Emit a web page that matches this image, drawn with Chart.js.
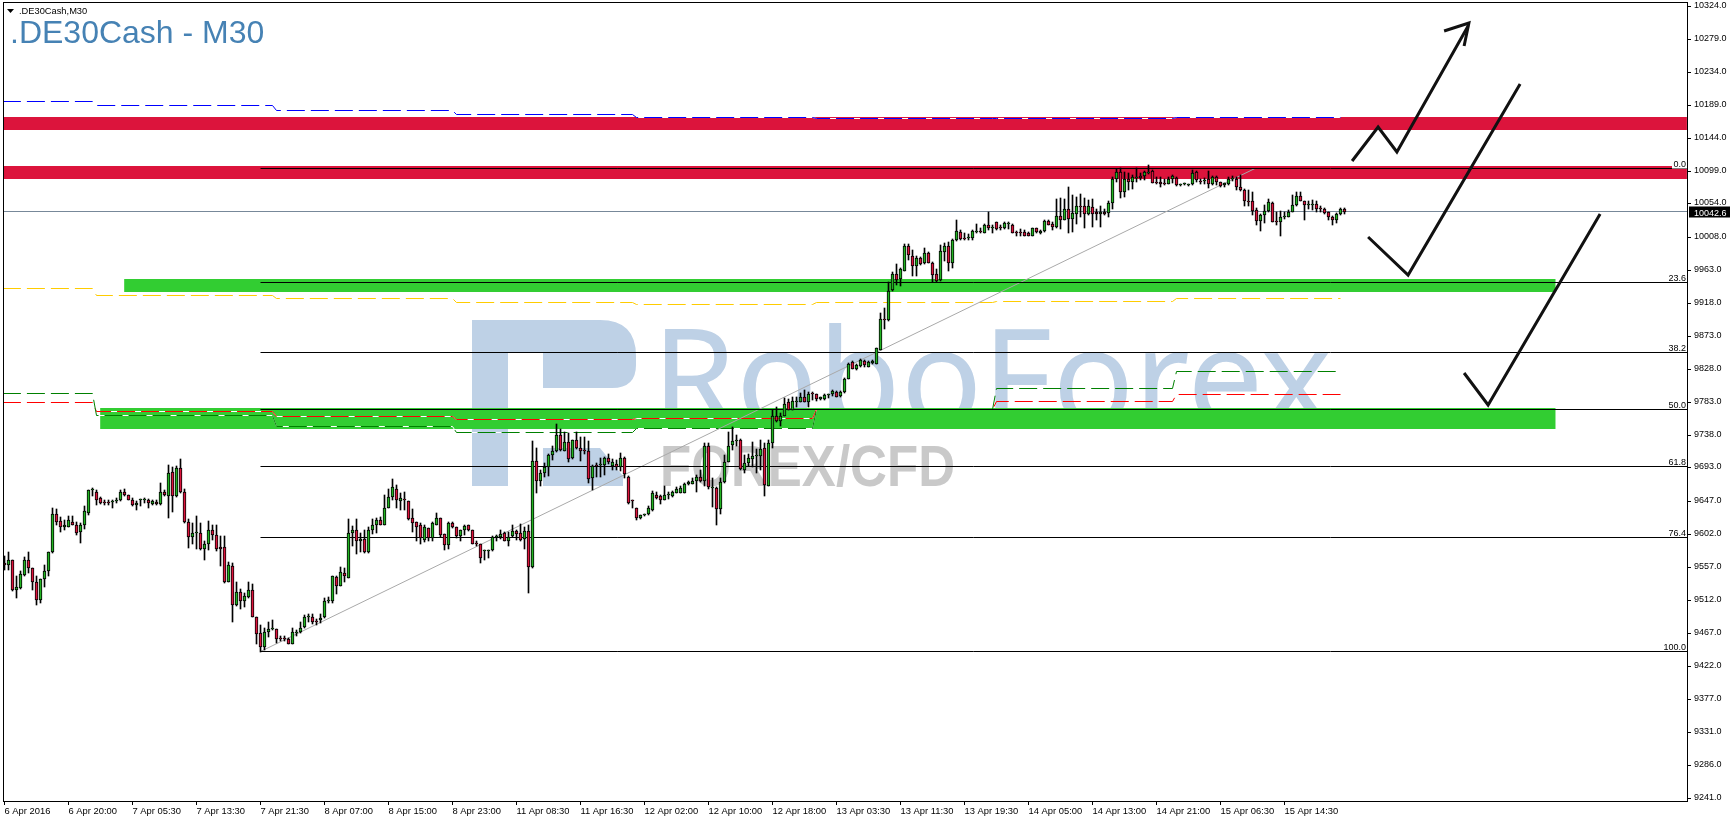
<!DOCTYPE html>
<html lang="en">
<head>
<meta charset="UTF-8">
<title>.DE30Cash - M30</title>
<script src="https://cdn.jsdelivr.net/npm/chart.js"></script>
<style>
    html, body { margin: 0; padding: 0; background: #fff; }
    canvas { display: block; }
</style>
</head>
<body>
<canvas id="chart" width="1730" height="822"></canvas>
<script>
// candles, one entry per M30 bar
const opens = [
    9563,9559,9566,9526,9528,9546,9567,9555,9537,9512, 9540,9552,9577,9629,9620,9612,9612,9619,9615,9605,
    9615,9631,9662,9660,9651,9646,9646,9646,9647,9648, 9660,9655,9649,9641,9648,9648,9649,9643,9646,9643,
    9660,9654,9687,9654,9692,9659,9619,9598,9604,9604, 9582,9589,9608,9600,9584,9584,9536,9558,9505,9523,
    9511,9516,9526,9488,9466,9447,9468,9472,9472,9460, 9460,9459,9451,9466,9468,9475,9488,9488,9483,9484,
    9488,9510,9510,9543,9531,9548,9542,9603,9608,9593, 9595,9577,9608,9615,9621,9615,9638,9653,9664,9647,
    9649,9647,9624,9618,9614,9594,9610,9597,9615,9624, 9602,9587,9617,9611,9599,9607,9614,9607,9590,9589,
    9579,9579,9580,9598,9598,9603,9593,9599,9606,9604, 9595,9606,9557,9702,9674,9686,9694,9710,9715,9737,
    9716,9728,9706,9731,9719,9716,9716,9678,9696,9696, 9697,9706,9695,9698,9693,9706,9680,9648,9637,9624,
    9628,9629,9635,9656,9654,9649,9656,9654,9658,9658, 9658,9670,9671,9674,9680,9674,9722,9665,9665,9636,
    9673,9701,9724,9729,9731,9690,9699,9705,9708,9708, 9719,9668,9727,9764,9756,9764,9782,9772,9783,9783,
    9789,9783,9794,9793,9786,9787,9792,9793,9796,9791, 9796,9814,9837,9828,9832,9839,9831,9836,9835,9854,
    9896,9894,9935,9958,9951,9962,9996,9982,9968,9979, 9972,9986,9973,9957,9949,9988,9996,9973,10004,10015,
    10007,10007,10007,10015,10016,10014,10024,10020,10028,10021, 10020,10026,10025,10014,10014,10015,10013,10010,10020,10013,
    10016,10030,10026,10022,10037,10032,10046,10033,10040,10051, 10051,10039,10049,10042,10039,10042,10041,10055,10088,10097,
    10070,10087,10083,10089,10092,10091,10096,10098,10084,10084, 10082,10081,10087,10089,10079,10080,10079,10080,10097,10085,
    10085,10087,10080,10090,10084,10079,10081,10087,10088,10077, 10073,10057,10057,10045,10030,10038,10044,10054,10029,10028,
    10036,10036,10043,10052,10064,10057,10052,10052,10053,10047, 10047,10042,10036,10031,10039,10047
];
const highs = [
    9572,9577,9566,9544,9551,9571,9578,9555,9544,9540, 9559,9578,9638,9636,9625,9621,9627,9627,9618,9617,
    9640,9662,9665,9662,9653,9648,9648,9649,9651,9662, 9664,9656,9651,9647,9650,9651,9650,9649,9649,9672,
    9662,9697,9693,9695,9704,9664,9622,9617,9627,9617, 9592,9620,9615,9614,9599,9599,9564,9563,9537,9527,
    9521,9536,9534,9488,9477,9473,9481,9484,9472,9462, 9462,9460,9474,9471,9482,9491,9492,9493,9486,9492,
    9514,9516,9545,9545,9557,9556,9622,9613,9622,9603, 9607,9612,9623,9624,9625,9655,9663,9677,9669,9658,
    9659,9647,9636,9619,9617,9615,9610,9618,9631,9624, 9602,9618,9619,9612,9608,9615,9615,9607,9592,9589,
    9580,9580,9599,9601,9607,9605,9605,9615,9607,9616, 9612,9615,9729,9720,9690,9699,9711,9722,9753,9745,
    9741,9740,9731,9741,9735,9735,9729,9696,9699,9706, 9707,9711,9705,9703,9713,9707,9682,9649,9638,9628,
    9629,9640,9661,9659,9655,9668,9659,9661,9666,9667, 9672,9674,9679,9683,9689,9726,9726,9678,9666,9678,
    9710,9741,9748,9738,9732,9710,9711,9728,9718,9730, 9726,9731,9772,9776,9767,9788,9786,9790,9789,9795,
    9799,9796,9796,9794,9790,9793,9794,9799,9797,9797, 9815,9836,9838,9834,9841,9840,9838,9840,9856,9904,
    9911,9947,9960,9971,9966,9999,9999,9990,9982,9981, 9993,9988,9974,9964,9997,10000,10001,10005,10031,10018,
    10013,10012,10018,10026,10020,10026,10042,10024,10029,10024, 10028,10028,10026,10016,10019,10018,10015,10020,10021,10018,
    10031,10031,10028,10060,10061,10060,10076,10065,10063,10067, 10061,10059,10060,10047,10050,10046,10058,10090,10101,10102,
    10097,10096,10093,10102,10095,10099,10106,10100,10090,10090, 10087,10090,10093,10090,10080,10082,10081,10100,10099,10087,
    10089,10099,10092,10092,10084,10082,10090,10091,10090,10093, 10074,10072,10070,10048,10040,10052,10060,10056,10043,10044,
    10043,10045,10065,10069,10070,10058,10058,10059,10058,10050, 10048,10043,10037,10041,10048,10048
];
const lows = [
    9553,9553,9524,9514,9527,9545,9548,9525,9505,9508, 9530,9544,9576,9614,9605,9607,9612,9614,9600,9590,
    9609,9628,9654,9642,9643,9642,9642,9637,9644,9647, 9654,9648,9640,9635,9640,9644,9638,9641,9641,9642,
    9654,9624,9632,9653,9658,9617,9583,9588,9582,9580, 9566,9580,9594,9579,9558,9535,9536,9481,9503,9500,
    9502,9515,9488,9451,9441,9443,9461,9471,9453,9456, 9456,9451,9451,9462,9467,9474,9482,9479,9477,9480,
    9487,9508,9508,9520,9531,9537,9542,9586,9575,9578, 9576,9576,9602,9603,9614,9614,9638,9648,9638,9635,
    9635,9621,9605,9593,9589,9591,9592,9592,9614,9598, 9580,9581,9610,9597,9593,9601,9606,9588,9586,9562,
    9566,9569,9579,9592,9595,9592,9586,9598,9594,9593, 9581,9521,9556,9658,9667,9680,9682,9703,9714,9715,
    9715,9700,9704,9718,9702,9711,9672,9662,9680,9680, 9683,9698,9689,9689,9688,9678,9643,9637,9621,9623,
    9626,9628,9634,9650,9643,9648,9650,9653,9658,9658, 9658,9669,9670,9660,9673,9668,9663,9639,9615,9629,
    9672,9700,9717,9723,9690,9686,9695,9694,9686,9690, 9654,9667,9720,9755,9750,9763,9772,9771,9775,9782,
    9782,9775,9785,9784,9785,9785,9788,9791,9789,9790, 9795,9814,9827,9826,9831,9831,9830,9834,9834,9854,
    9883,9893,9934,9943,9941,9961,9977,9955,9955,9970, 9971,9973,9947,9947,9948,9976,9961,9966,10003,10004,
    10004,10004,10004,10013,10013,10013,10018,10014,10018,10018, 10019,10019,10013,10010,10010,10009,10009,10009,10013,10012,
    10015,10024,10018,10021,10019,10031,10014,10015,10026,10036, 10021,10038,10022,10031,10022,10038,10036,10047,10084,10062,
    10063,10072,10074,10084,10086,10086,10094,10082,10081,10076, 10079,10080,10082,10078,10078,10079,10078,10079,10083,10081,
    10081,10075,10079,10079,10076,10077,10079,10085,10072,10071, 10051,10051,10038,10024,10017,10027,10043,10028,10025,10009,
    10033,10035,10042,10051,10057,10032,10047,10045,10042,10043, 10040,10031,10025,10027,10038,10040
];
const closes = [
    9559,9567,9525,9529,9547,9567,9555,9537,9512,9540, 9551,9578,9629,9618,9612,9614,9621,9615,9604,9614,
    9633,9662,9664,9649,9644,9644,9645,9647,9648,9660, 9656,9649,9642,9645,9648,9649,9644,9647,9643,9659,
    9655,9686,9654,9692,9659,9618,9598,9604,9604,9581, 9588,9608,9601,9582,9582,9536,9559,9505,9523,9511,
    9517,9526,9489,9465,9448,9468,9472,9472,9458,9459, 9459,9451,9468,9468,9474,9488,9488,9481,9482,9487,
    9510,9511,9544,9531,9550,9544,9603,9608,9593,9595, 9577,9607,9615,9621,9615,9638,9653,9666,9648,9651,
    9648,9623,9617,9612,9596,9612,9597,9617,9624,9601, 9587,9617,9612,9599,9607,9613,9607,9589,9589,9569,
    9579,9579,9598,9598,9602,9593,9598,9606,9602,9594, 9606,9557,9702,9674,9685,9694,9710,9716,9737,9717,
    9728,9705,9731,9719,9716,9715,9677,9695,9695,9697, 9706,9700,9700,9693,9706,9684,9644,9647,9624,9628,
    9629,9637,9658,9651,9649,9656,9657,9659,9664,9665, 9671,9673,9675,9680,9674,9722,9666,9666,9636,9673,
    9701,9723,9729,9729,9691,9699,9706,9708,9708,9718, 9669,9727,9763,9757,9764,9780,9772,9784,9783,9789,
    9783,9794,9793,9786,9789,9792,9792,9797,9790,9796, 9814,9835,9828,9833,9840,9833,9837,9838,9856,9896,
    9895,9934,9958,9950,9964,9996,9983,9968,9980,9971, 9986,9973,9956,9948,9989,9996,9973,10004,10016,10006,
    10006,10008,10016,10016,10015,10024,10020,10020,10019,10020, 10027,10027,10014,10013,10013,10010,10010,10020,10015,10016,
    10030,10025,10022,10037,10032,10046,10033,10041,10050,10049, 10039,10051,10039,10039,10042,10040,10054,10088,10097,10070,
    10087,10084,10090,10089,10089,10097,10097,10082,10082,10081, 10081,10087,10091,10079,10079,10080,10080,10095,10086,10084,
    10085,10080,10090,10084,10078,10082,10088,10087,10077,10072, 10057,10056,10044,10030,10038,10044,10056,10028,10028,10035,
    10037,10043,10052,10064,10058,10052,10052,10052,10046,10046, 10041,10035,10031,10040,10047,10042.6
];

// axis labels
const priceTicks = [10324,10279,10234,10189,10144,10099,10054,10008,9963,9918,9873,9828,9783,9738,9693,9647,9602,9557,9512,9467,9422,9377,9331,9286,9241];
const timeLabels = ['6 Apr 2016','6 Apr 20:00','7 Apr 05:30','7 Apr 13:30','7 Apr 21:30','8 Apr 07:00','8 Apr 15:00','8 Apr 23:00','11 Apr 08:30','11 Apr 16:30','12 Apr 02:00','12 Apr 10:00','12 Apr 18:00','13 Apr 03:30','13 Apr 11:30','13 Apr 19:30','14 Apr 05:00','14 Apr 13:00','14 Apr 21:00','15 Apr 06:30','15 Apr 14:30'];
const barsPerLabel = 16;

// daily pivot levels, first and last bar of each day
const dayStart = [-0.4,23,68,113,158,203,248,293];
const dayEnd = [22,67,112,157,202,247,292,334];
const pivotBlue = [10194,10187.3,10181.8,10175.9,10171.5,10170.4,10170.4,10171.5];
const pivotGold = [9938.4,9928.8,9923.4,9917.9,9915.2,9917.9,9920.6,9923.4];
const pivotGreen = [9794.4,9764.3,9749,9740.5,9745.6,9771.6,9801.2,9824.5];
const pivotRed = [9782.1,9769.2,9763,9758.9,9760.2,9771.6,9783.2,9793.4];

// fibonacci retracement
const fibLabels = ['0.0','23.6','38.2','50.0','61.8','76.4','100.0'];
const fibPrices = [10102.1,9946.2,9850.5,9772.9,9694.6,9597.5,9442];
const fibFromBar = 64;
const fibToBar = 312.6;

// drawn zones: [first bar, last bar, top price, bottom price]
const redZones = [[-0.4,420.6,10172.2,10154.4],[-0.4,420.6,10105.2,10087.4]];
const greenZones = [[29.9,387.8,9950.7,9933],[23.9,387.8,9774.3,9745.6]];

// hand drawn arrows
const arrowA = [[336.9,10112],[343.4,10158.5],[348.1,10124.4],[365.9,10296.7]];
const arrowHead = [[359.9,10289.8],[366.1,10300.8],[364.9,10269.3]];
const arrowB = [[340.9,10008.1],[350.9,9956.2],[378.9,10217.3]];
const arrowC = [[364.9,9822.2],[370.9,9778.4],[398.9,10039.6]];

const lastPrice = 10042.6;

const UP = '#22b422';
const DOWN = '#dc143c';
const FONT = '"Liberation Sans", Arial, sans-serif';
const xMin = -0.375, xMax = 420.625;

// MT4 draws on whole pixels, so snap the price scale too
class SnapScale extends Chart.LinearScale {
    getPixelForValue(value) {
        const p = super.getPixelForValue(value);
        return this.options.halfPixel ? Math.floor(p) + 0.5 : Math.round(p);
    }
}
SnapScale.id = 'snap';
SnapScale.defaults = Chart.LinearScale.defaults;
Chart.register(SnapScale);

function pts(list) {
    return list.map(p => ({x: p[0], y: p[1]}));
}

function pivotPoints(levels, from, to) {
    const out = [];
    for (let d = from; d <= to; d++) {
        out.push({x: dayStart[d], y: levels[d]}, {x: dayEnd[d], y: levels[d]});
    }
    return out;
}

function lineSet(data, color, width, order, dash) {
    return {type: 'line', data: data, borderColor: color, borderWidth: width, borderDash: dash || [],
        pointRadius: 0, tension: 0, fill: false, yAxisID: 'yLine', order: order};
}

// the tick labels must not push the plot area in
function noPadding(s) {
    s.paddingTop = 0;
    s.paddingBottom = 0;
    s.paddingLeft = 0;
    s.paddingRight = 0;
}

const datasets = [];

redZones.concat(greenZones).forEach((z, n) => {
    datasets.push({type: 'line', yAxisID: 'y', order: 20, pointRadius: 0, borderWidth: 0,
        data: [{x: z[0], y: z[2]}, {x: z[1], y: z[2]}],
        fill: {target: {value: z[3]}},
        backgroundColor: n < 2 ? DOWN : '#32cd32'});
});

// white under the dashes, it only shows where they cross a zone
datasets.push(lineSet(pivotPoints(pivotBlue, 4, 7), '#fff', 1, 12));
datasets.push(lineSet(pivotPoints(pivotGreen, 1, 5), '#fff', 1, 12));
datasets.push(lineSet(pivotPoints(pivotRed, 1, 5), '#fff', 1, 12));
datasets.push(lineSet(pivotPoints(pivotBlue, 0, 7), '#0000ff', 1, 11, [18, 6]));
datasets.push(lineSet(pivotPoints(pivotGold, 0, 7), '#ffcc00', 1, 11, [18, 6]));
datasets.push(lineSet(pivotPoints(pivotGreen, 0, 7), '#008000', 1, 11, [18, 6]));
datasets.push(lineSet(pivotPoints(pivotRed, 0, 7), '#ff0000', 1, 11, [18, 6]));

fibPrices.forEach(p => {
    datasets.push(lineSet([{x: fibFromBar, y: p}, {x: xMax, y: p}], '#000', 1, 9));
});
datasets.push(lineSet([{x: fibFromBar, y: fibPrices[6]}, {x: fibToBar, y: fibPrices[0]}], '#a9a9a9', 1, 9));
datasets.push(lineSet([{x: xMin, y: lastPrice}, {x: xMax, y: lastPrice}], '#778899', 1, 9));

// wicks then bodies
datasets.push({type: 'bar', grouped: false, order: 6, barThickness: 1, backgroundColor: '#000', yAxisID: 'y',
    data: highs.map((h, i) => ({x: i, y: [lows[i], h]}))});
datasets.push({type: 'bar', grouped: false, order: 5, barThickness: 3, borderWidth: 1, borderColor: '#000',
    borderSkipped: false, minBarLength: 1, yAxisID: 'y',
    backgroundColor: closes.map((c, i) => c >= opens[i] ? UP : DOWN),
    data: closes.map((c, i) => ({x: i, y: [opens[i], c]}))});

[arrowA, arrowHead, arrowB, arrowC].forEach(a => {
    const d = lineSet(pts(a), '#111', 3, 1);
    d.yAxisID = 'y';
    datasets.push(d);
});

const decorations = {
    id: 'decorations',
    beforeDatasetsDraw(chart) {
        const ctx = chart.ctx;
        ctx.save();
        // watermark logo
        ctx.fillStyle = '#bed1e6';
        ctx.beginPath();
        ctx.moveTo(472, 320);
        ctx.lineTo(600, 320);
        ctx.quadraticCurveTo(636, 320, 636, 356);
        ctx.lineTo(636, 365);
        ctx.quadraticCurveTo(636, 388, 612, 388);
        ctx.lineTo(543, 388);
        ctx.lineTo(543, 352);
        ctx.lineTo(508, 352);
        ctx.lineTo(508, 486);
        ctx.lineTo(472, 486);
        ctx.closePath();
        ctx.moveTo(543, 448);
        ctx.lineTo(600, 448);
        ctx.lineTo(623, 476);
        ctx.lineTo(623, 486);
        ctx.lineTo(543, 486);
        ctx.closePath();
        ctx.fill();
        ctx.font = '135px "Noto Sans", sans-serif';
        ctx.textBaseline = 'alphabetic';
        ctx.fillText('RoboForex', 652, 426, 680);
        ctx.fillStyle = '#c9c9c9';
        ctx.font = 'bold 57px "Liberation Sans", sans-serif';
        ctx.fillText('FOREX/CFD', 660, 486, 295);
        ctx.restore();
    },
    afterDraw(chart) {
        const ctx = chart.ctx;
        const y = chart.scales.yLine;
        ctx.save();
        // frame
        ctx.strokeStyle = '#000';
        ctx.lineWidth = 1;
        ctx.strokeRect(3.5, 2.5, 1684, 799);
        // titles
        ctx.fillStyle = '#4682b4';
        ctx.font = '32px ' + FONT;
        ctx.textBaseline = 'alphabetic';
        ctx.fillText('.DE30Cash - M30', 10, 43);
        ctx.fillStyle = '#000';
        ctx.beginPath();
        ctx.moveTo(7, 9);
        ctx.lineTo(14, 9);
        ctx.lineTo(10.5, 13);
        ctx.closePath();
        ctx.fill();
        ctx.font = '9.3px ' + FONT;
        ctx.fillText('.DE30Cash,M30', 19, 14);
        // fib level captions
        ctx.textAlign = 'right';
        ctx.font = '9px ' + FONT;
        fibLabels.forEach((t, i) => {
            const py = y.getPixelForValue(fibPrices[i]);
            if (i === 0) {
                ctx.fillStyle = '#fff';
                ctx.fillRect(1672, py - 8, 15, 8);
            }
            ctx.fillStyle = '#000';
            ctx.fillText(t, 1686, py - 2);
        });
        // last price tag
        const py = y.getPixelForValue(lastPrice);
        ctx.fillStyle = '#000';
        ctx.fillRect(1689, py - 5, 41, 11);
        ctx.fillStyle = '#fff';
        ctx.textAlign = 'left';
        ctx.fillText(lastPrice.toFixed(1), 1694, py + 4);
        ctx.restore();
    }
};

new Chart(document.getElementById('chart'), {
    type: 'bar',
    data: {datasets: datasets},
    plugins: [decorations],
    options: {
        responsive: false,
        animation: false,
        events: [],
        layout: {padding: {left: 3, top: 2, right: 0, bottom: 0}},
        plugins: {legend: {display: false}, tooltip: {enabled: false}, title: {display: false}},
        scales: {
            x: {
                type: 'linear', min: xMin, max: xMax, offset: false,
                afterFit: s => { s.height = 21; noPadding(s); },
                afterBuildTicks: s => { s.ticks = timeLabels.map((t, i) => ({value: i * barsPerLabel})); },
                grid: {drawOnChartArea: false, tickLength: 4, tickColor: '#000', offset: false},
                border: {display: false},
                ticks: {
                    autoSkip: false, maxRotation: 0, align: 'start', padding: 1, color: '#000',
                    font: {family: FONT, size: 9.4},
                    callback: v => timeLabels[v / barsPerLabel]
                }
            },
            y: {
                type: 'snap', position: 'right', min: 9236.9, max: 10329.5,
                afterFit: s => { s.width = 43; noPadding(s); },
                afterBuildTicks: s => { s.ticks = priceTicks.map(v => ({value: v})); },
                grid: {drawOnChartArea: false, tickLength: 4, tickColor: '#000'},
                border: {display: false},
                ticks: {
                    autoSkip: false, padding: 3, color: '#000',
                    font: {family: FONT, size: 9},
                    callback: v => v.toFixed(1)
                }
            },
            yLine: {type: 'snap', display: false, min: 9236.9, max: 10329.5, halfPixel: true}
        }
    }
});
</script>
</body>
</html>
